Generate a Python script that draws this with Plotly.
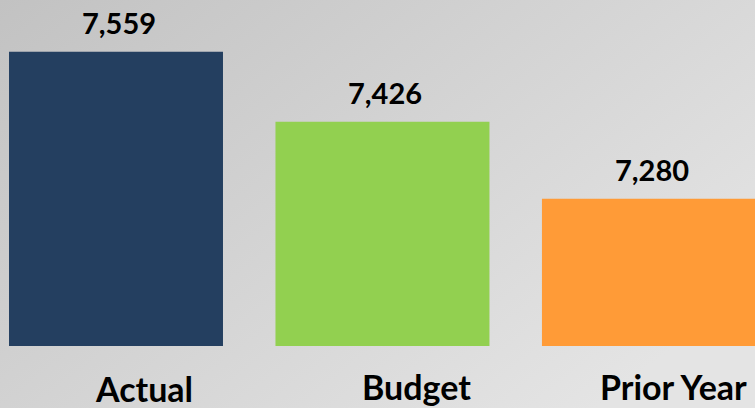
import base64
import plotly.graph_objects as go

# Results for the period
categories = ["Actual", "Budget", "Prior Year"]
values = [7559, 7426, 7280]
value_labels = [f"{v:,}" for v in values]
bar_colors = ["#243F60", "#92D050", "#FF9B37"]

W, H = 755, 408

# soft grey diagonal gradient behind the chart
bg_svg = (
    '<svg xmlns="http://www.w3.org/2000/svg" width="755" height="408" preserveAspectRatio="none">'
    '<defs><linearGradient id="g" x1="0" y1="0" x2="1" y2="0.7">'
    '<stop offset="0" stop-color="#c2c2c2"/><stop offset="1" stop-color="#e4e4e4"/>'
    '</linearGradient></defs><rect width="755" height="408" fill="url(#g)"/></svg>'
)
bg_uri = "data:image/svg+xml;base64," + base64.b64encode(bg_svg.encode()).decode()

fig = go.Figure(
    go.Bar(
        x=list(range(len(categories))),
        y=values,
        marker=dict(color=bar_colors, line=dict(width=0)),
        hovertext=categories,
    )
)

# value labels above the bars
label_font = dict(family="Lato, Calibri, sans-serif", size=29, color="#000000")
for i, (v, t) in enumerate(zip(values, value_labels)):
    fig.add_annotation(
        x=i, y=v, xref="x", yref="y", text=f"<b>{t}</b>",
        showarrow=False, yanchor="bottom", xanchor="center",
        xshift=3, yshift=10, font=label_font,
    )

# category names under the bars
cat_font = dict(family="Lato, Calibri, sans-serif", size=34, color="#000000")
cat_xshift = [28, 34, 25]
cat_ypix = [388, 386, 386]
for i, (c, dx, yp) in enumerate(zip(categories, cat_xshift, cat_ypix)):
    fig.add_annotation(
        x=i, y=1 - yp / H, xref="x", yref="paper", text=f"<b>{c}</b>",
        showarrow=False, yanchor="middle", xanchor="center",
        xshift=dx, font=cat_font,
    )

fig.update_layout(
    width=W, height=H,
    margin=dict(l=0, r=0, t=0, b=0),
    paper_bgcolor="rgba(0,0,0,0)",
    plot_bgcolor="rgba(0,0,0,0)",
    bargap=0.197,
    showlegend=False,
    images=[dict(source=bg_uri, xref="paper", yref="paper", x=0, y=1,
                 sizex=1, sizey=1, sizing="stretch", layer="below",
                 xanchor="left", yanchor="top")],
    xaxis=dict(range=[-0.4353, 2.398], visible=False, fixedrange=True),
    yaxis=dict(range=[7000, 7657.4], domain=[62 / H, 1], visible=False,
               fixedrange=True),
)

fig.write_html("out.html", config={"displayModeBar": False})
